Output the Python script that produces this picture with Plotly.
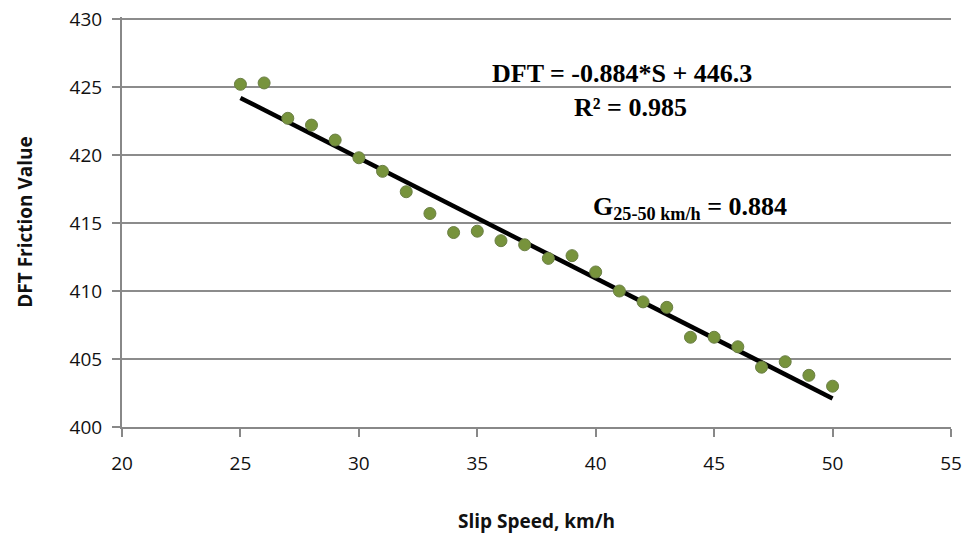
import plotly.graph_objects as go

slip_speed = [25, 26, 27, 28, 29, 30, 31, 32, 33, 34, 35, 36, 37, 38, 39, 40, 41, 42, 43, 44, 45, 46, 47, 48, 49, 50]
dft_value = [425.2, 425.3, 422.7, 422.2, 421.1, 419.8, 418.8, 417.3, 415.7, 414.3, 414.4, 413.7, 413.4, 412.4, 412.6,
             411.4, 410.0, 409.2, 408.8, 406.6, 406.6, 405.9, 404.4, 404.8, 403.8, 403.0]
slope = -0.884
intercept = 446.3
fit_x = [25, 50]
fit_y = [slope * v + intercept for v in fit_x]

x_ticks = [20, 25, 30, 35, 40, 45, 50, 55]
y_ticks = [400, 405, 410, 415, 420, 425, 430]

fig = go.Figure()
fig.add_trace(go.Scatter(x=fit_x, y=fit_y, mode="lines",
                         line=dict(color="black", width=4.5), showlegend=False, hoverinfo="skip"))
fig.add_trace(go.Scatter(x=slip_speed, y=dft_value, mode="markers",
                         marker=dict(color="#77933C", size=12, line=dict(color="#6b7f45", width=1)),
                         showlegend=False))

serif = "Liberation Serif, Times New Roman, serif"
fig.add_annotation(xref="x", yref="y", x=41.1, y=426.0, text="<b>DFT = -0.884*S + 446.3</b>",
                   showarrow=False, font=dict(family=serif, size=26, color="black"))
fig.add_annotation(xref="x", yref="y", x=41.45, y=423.5, text="<b>R² = 0.985</b>",
                   showarrow=False, font=dict(family=serif, size=26, color="black"))
fig.add_annotation(xref="x", yref="y", x=43.98, y=416.1,
                   text="<b>G<sub>25-50 km/h</sub> = 0.884</b>",
                   showarrow=False, font=dict(family=serif, size=26, color="black"))

tickfont = dict(family="Open Sans, DejaVu Sans, sans-serif", size=19, color="#111")
titlefont = dict(family="Open Sans, sans-serif", size=19, color="#111")
fig.update_xaxes(range=[20, 55], tickvals=x_ticks, showgrid=False, zeroline=False, automargin=False,
                 showline=True, linecolor="#888", linewidth=2, ticks="outside", tickcolor="#888",
                 ticklen=8, tickwidth=2, tickfont=tickfont, ticklabelstandoff=10,
                 title=dict(text="<b>Slip Speed, km/h</b>", font=titlefont, standoff=40))
fig.update_yaxes(range=[400, 430.15], tickvals=y_ticks, showgrid=True, gridcolor="#8c8c8c", gridwidth=2,
                 zeroline=False, automargin=False, showline=True, linecolor="#888", linewidth=2, ticks="outside",
                 tickcolor="#888", ticklen=8, tickwidth=2, tickfont=tickfont, ticklabelstandoff=6,
                 title=dict(text="<b>DFT Friction Value</b>", font=titlefont, standoff=32))
fig.update_layout(width=966, height=538, paper_bgcolor="white", plot_bgcolor="white",
                  margin=dict(l=122, r=15, t=17, b=111))
fig.write_html("out.html")
